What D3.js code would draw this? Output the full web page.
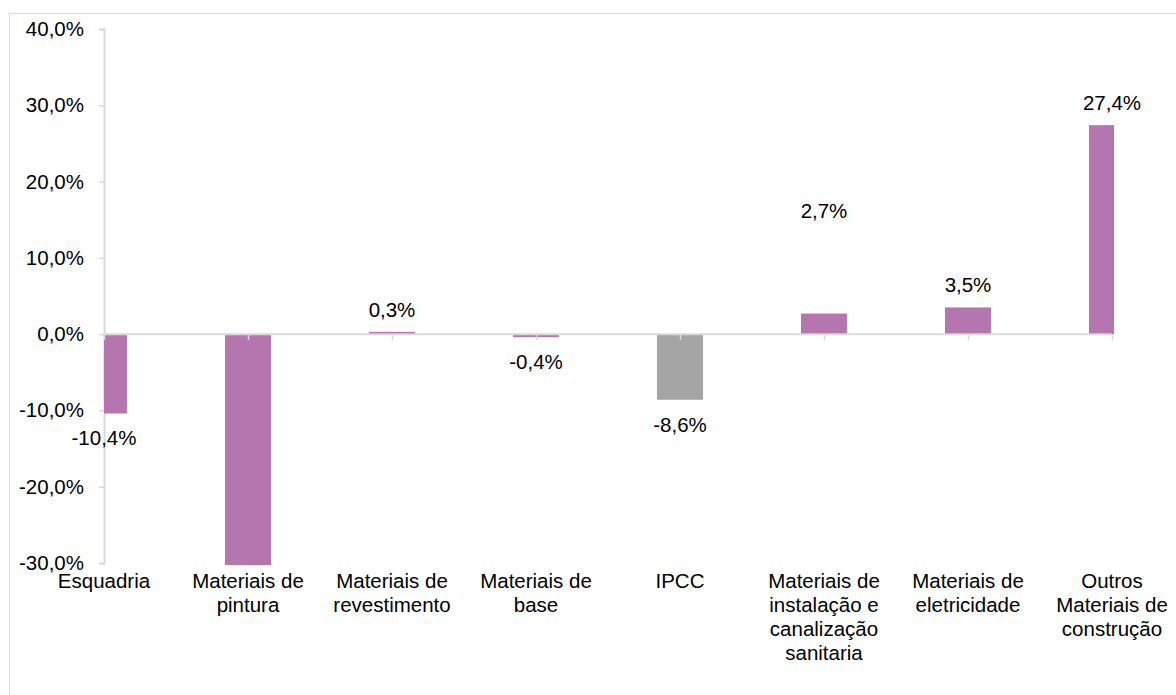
<!DOCTYPE html>
<html>
<head>
<meta charset="utf-8">
<script src="https://cdn.jsdelivr.net/npm/d3@7"></script>
<style>
  body { margin: 0; background: #fff; }
  svg { font-family: "Liberation Sans", Arial, sans-serif; }
</style>
</head>
<body>
<div id="chart"></div>
<script>
// categories and values (% change)
const categories = ["Esquadria", "Materiais de pintura", "Materiais de revestimento", "Materiais de base",
                    "IPCC", "Materiais de instalação e canalização sanitaria", "Materiais de eletricidade",
                    "Outros Materiais de construção"];
const values = [-10.4, -33.0, 0.3, -0.4, -8.6, 2.7, 3.5, 27.4];
const highlight = ["IPCC"]; // drawn in gray
const yTicks = [-30, -20, -10, 0, 10, 20, 30, 40];

const width = 1176, height = 695;
const margin = {top: 29, right: 64, bottom: 132, left: 104};

const svg = d3.select("#chart").append("svg")
    .attr("width", width)
    .attr("height", height);

// outer chart border
svg.append("rect")
    .attr("x", 9.5).attr("y", 13.5)
    .attr("width", width).attr("height", height)
    .attr("fill", "none")
    .attr("stroke", "#d9d9d9");

// categories sit on the tick marks (first one on the y axis)
const x = d3.scalePoint()
    .domain(categories)
    .range([margin.left, width - margin.right]);

const y = d3.scaleLinear()
    .domain([-30, 40])
    .range([height - margin.bottom, margin.top]);

const barW = x.step() * 0.32;
// comma decimal, plain hyphen for minus
const fmt = v => d3.format(".1f")(v).replace(".", ",").replace("\u2212", "-") + "%";

svg.append("clipPath").attr("id", "plot")
    .append("rect")
    .attr("x", margin.left).attr("y", margin.top)
    .attr("width", width - margin.right - margin.left + 2)
    .attr("height", y(-30) - margin.top + 2);

// y axis
const yAxis = svg.append("g")
    .attr("transform", `translate(${margin.left},0)`)
    .call(d3.axisLeft(y).tickValues(yTicks).tickSize(5).tickPadding(15).tickFormat(fmt));
yAxis.select(".domain").attr("stroke", "#d9d9d9").attr("stroke-width", 2);
yAxis.selectAll(".tick line").attr("stroke", "#d9d9d9").attr("stroke-width", 1.5);
yAxis.selectAll(".tick text").attr("font-size", "20.5px").attr("fill", "#000")
    .attr("font-family", "Liberation Sans, Arial, sans-serif");

// bars
const data = categories.map((c, i) => ({cat: c, v: values[i]}));

svg.append("g").attr("clip-path", "url(#plot)")
  .selectAll("rect")
  .data(data)
  .join("rect")
    .attr("x", d => x(d.cat) - barW / 2)
    .attr("width", barW)
    .attr("y", d => y(Math.max(0, d.v)))
    .attr("height", d => Math.abs(y(d.v) - y(0)))
    .attr("fill", d => highlight.includes(d.cat) ? "#a5a5a5" : "#b576b0");

// zero line with tick marks at each category
const xAxis = svg.append("g")
    .attr("transform", `translate(0,${y(0)})`)
    .call(d3.axisBottom(x).tickSize(6).tickFormat(""));
xAxis.select(".domain").attr("stroke", "#d9d9d9").attr("stroke-width", 2).attr("d", `M${margin.left},0H${width - margin.right}`);
xAxis.selectAll(".tick line").attr("stroke", "#d9d9d9").attr("stroke-width", 1.5);

// data labels (hidden when bar goes out of the axis range)
const nudge = {"Materiais de instalação e canalização sanitaria": -81};
svg.append("g")
  .selectAll("text")
  .data(data.filter(d => d.v >= -30 && d.v <= 40))
  .join("text")
    .attr("x", d => x(d.cat))
    .attr("y", d => (d.v >= 0 ? y(d.v) - 15 : y(d.v) + 32) + (nudge[d.cat] || 0))
    .attr("text-anchor", "middle")
    .attr("font-size", "20.5px")
    .attr("fill", "#000")
    .text(d => fmt(d.v));

// category labels, wrapped
const catG = svg.append("g");
categories.forEach(c => {
    const t = catG.append("text")
        .attr("x", x(c))
        .attr("y", 588)
        .attr("text-anchor", "middle")
        .attr("font-size", "20.5px")
        .attr("fill", "#000");
    const words = c.split(" ");
    let line = [];
    let tspan = t.append("tspan").attr("x", x(c)).attr("dy", 0);
    words.forEach(w => {
        line.push(w);
        tspan.text(line.join(" "));
        if (tspan.node().getComputedTextLength() > 130 && line.length > 1) {
            line.pop();
            tspan.text(line.join(" "));
            line = [w];
            tspan = t.append("tspan").attr("x", x(c)).attr("dy", 24).text(w);
        }
    });
});
</script>
</body>
</html>
